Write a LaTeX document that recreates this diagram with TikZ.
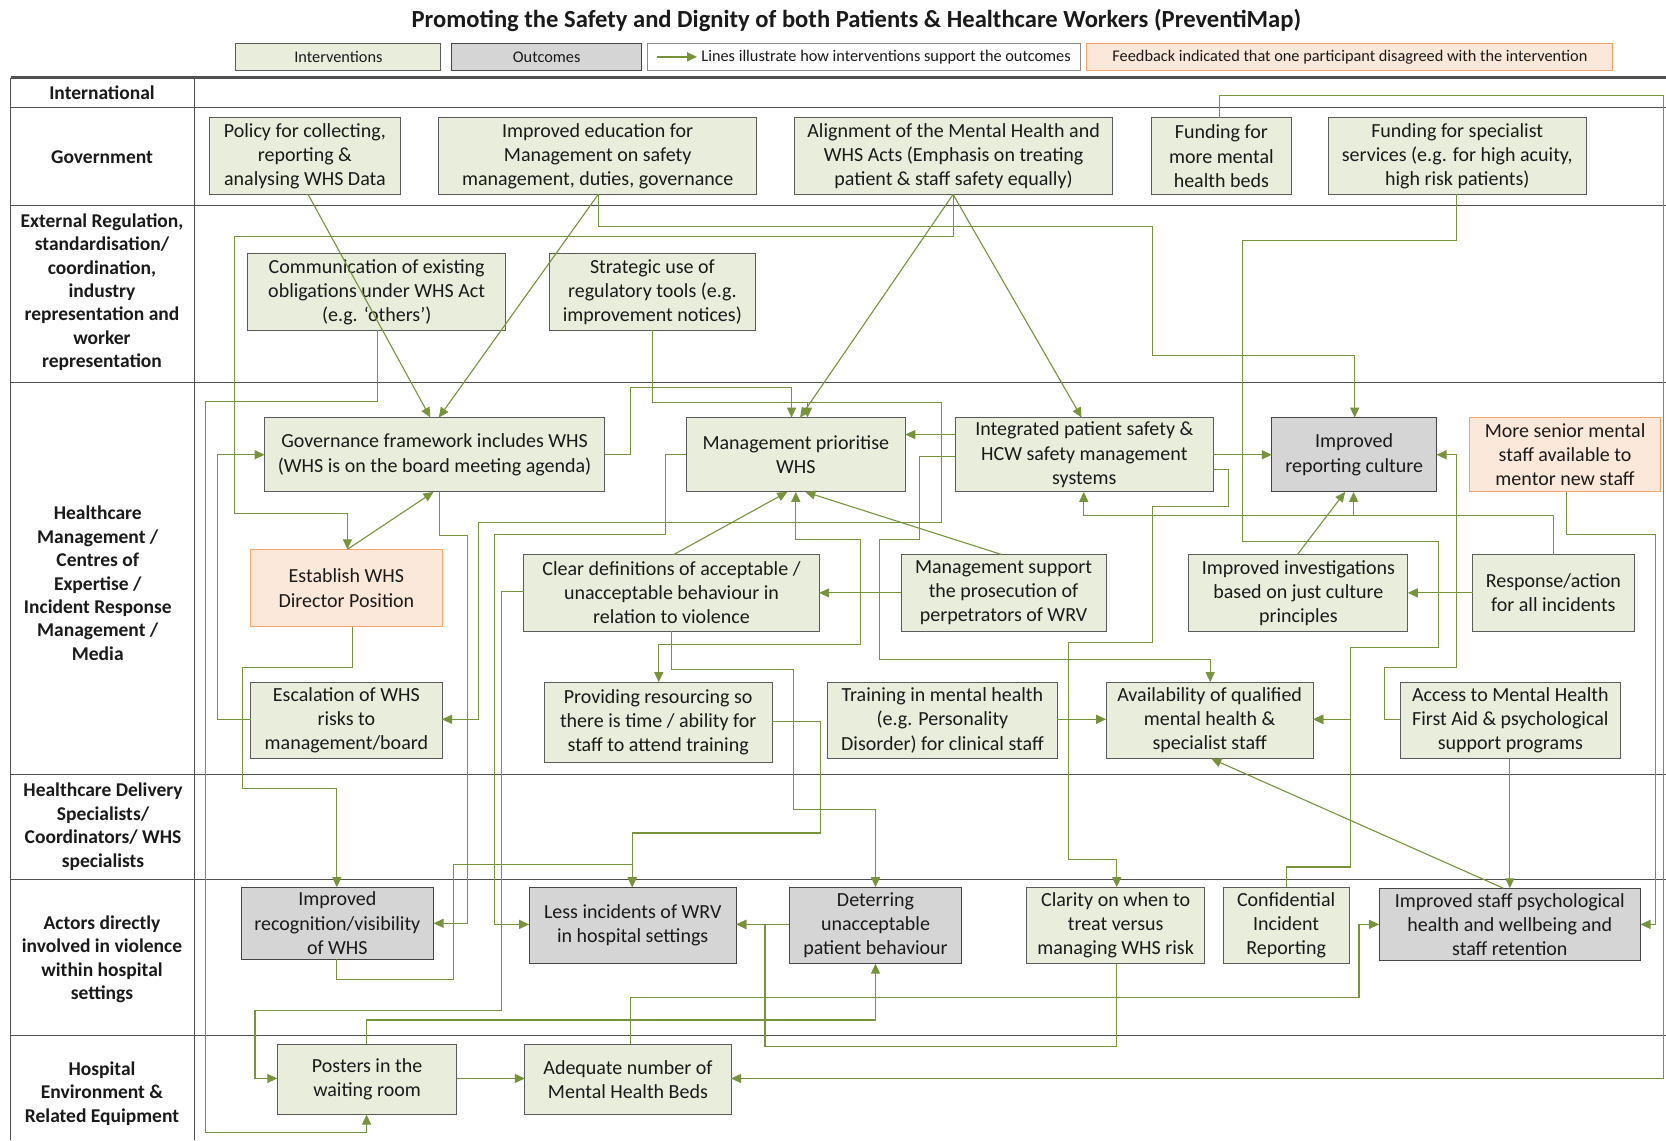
\documentclass[tikz,border=0pt]{standalone}
\usepackage{fontspec}
\setmainfont{Carlito}
\usetikzlibrary{arrows.meta}
\definecolor{lg}{HTML}{77933C}
\definecolor{gfill}{HTML}{E8EEDB}
\definecolor{gbdr}{HTML}{5B5B5B}
\definecolor{ofill}{HTML}{D5D5D5}
\definecolor{obdr}{HTML}{454545}
\definecolor{pfill}{HTML}{FCE8DA}
\definecolor{pbdr}{HTML}{F2A66B}
\definecolor{rule}{HTML}{505050}
\definecolor{ink}{HTML}{1A1A1A}
\newcommand\boxfont{\fontsize{20}{24.2}\selectfont}
\newcommand\lblfont{\fontsize{19.5}{23.4}\selectfont\bfseries}
\newcommand\legfont{\fontsize{16.3}{19}\selectfont}
% box from corner coordinates: name, style, x1, y1, x2, y2, text
\newcommand\bx[7]{%
  \node[#2,minimum width={(#5-#3)*1.0625pt},minimum height={(#6-#4)*1.0625pt}]
    (#1) at ({(#3+#5)/2},{(#4+#6)/2}) {#7};}
\begin{document}
\begin{tikzpicture}[x=1.0625pt,y=-1.0625pt,
  box/.style={draw=gbdr,line width=0.9pt,fill=gfill,inner sep=0pt,outer sep=0pt,
              align=center,font=\boxfont,text=ink},
  outc/.style={box,fill=ofill,draw=obdr},
  dis/.style={box,fill=pfill,draw=pbdr},
  lbl/.style={align=center,font=\lblfont,text=ink,inner sep=0pt},
  rowline/.style={draw=rule,line width=1.1pt},
  conn/.style={draw=lg,line width=1.1pt,line join=miter,
               -{Triangle[length=10pt,width=9pt]}},
  wire/.style={draw=lg,line width=1.1pt,line join=miter}]
\useasboundingbox (0,0) rectangle (1568,1073);
\fill[white] (0,0) rectangle (1568,1073);
\clip (0,0) rectangle (1568,1073);

% ---------- title and key ----------
\node[font=\fontsize{24.6}{29}\selectfont\bfseries,text=ink] (title) at (806,19)
  {Promoting the Safety and Dignity of both Patients \& Healthcare Workers (PreventiMap)};
\bx{keyI}{box,font=\legfont}{222}{41}{415}{66}{Interventions}
\bx{keyO}{outc,font=\legfont}{425}{41}{604}{66}{Outcomes}
\bx{keyL}{box,fill=white,draw=gbdr!70,font=\legfont}{609}{41}{1017}{66}{}
\bx{keyF}{dis,font=\legfont}{1023}{41}{1518}{66}{Feedback indicated that one participant disagreed with the intervention}
\coordinate (keyA) at (618,53.5);
\coordinate (keyB) at (656,53.5);
\draw[conn,line width=1.6pt] (keyA) -- (keyB);
\node[anchor=west,font=\legfont,text=ink,inner sep=0pt] (keyT) at (660,53.5)
  {Lines illustrate how interventions support the outcomes};

% ---------- table frame ----------
\draw[draw=rule,line width=2.4pt] (10,73) -- (1568,73);
\foreach \yy in {101,193,360,729,828,975}
  \draw[rowline] (10,\yy) -- (1568,\yy);
\draw[rowline] (10,73) -- (10,1073);
\draw[rowline] (183,73) -- (183,1073);

% ---------- row labels ----------
\node[lbl] (lbInt) at (96,87) {International};
\node[lbl] (lbGov) at (96,148) {Government};
\node[lbl] (lbExt) at (96,275) {External Regulation,\\standardisation/\\coordination,\\industry\\representation and\\worker\\representation};
\node[lbl] (lbMgt) at (92,549) {Healthcare\\Management /\\Centres of\\Expertise /\\Incident Response\\Management /\\Media};
\node[lbl] (lbDel) at (97,778) {Healthcare Delivery\\Specialists/\\Coordinators/ WHS\\specialists};
\node[lbl] (lbAct) at (96,903) {Actors directly\\involved in violence\\within hospital\\settings};
\node[lbl] (lbHos) at (96,1029) {Hospital\\Environment \&\\Related Equipment};

% ---------- government ----------
\bx{pol}{box}{197}{111}{377}{183}{Policy for collecting,\\reporting \&\\analysing WHS Data}
\bx{edu}{box}{413}{111}{712}{183}{Improved education for\\Management on safety\\management, duties, governance}
\bx{ali}{box}{748}{111}{1047}{183}{Alignment of the Mental Health and\\WHS Acts (Emphasis on treating\\patient \& staff safety equally)}
\bx{fbed}{box}{1084}{111}{1215}{183}{Funding for\\more mental\\health beds}
\bx{fspec}{box}{1250}{111}{1493}{183}{Funding for specialist\\services (e.g. for high acuity,\\high risk patients)}

% ---------- external regulation ----------
\bx{com}{box}{233}{239}{476}{311}{Communication of existing\\obligations under WHS Act\\(e.g. ‘others’)}
\bx{stra}{box}{517}{239}{711}{311}{Strategic use of\\regulatory tools (e.g.\\improvement notices)}

% ---------- healthcare management ----------
\bx{govf}{box}{249}{393}{569}{463}{Governance framework includes WHS\\(WHS is on the board meeting agenda)}
\bx{mpri}{box}{646}{393}{852}{463}{Management prioritise\\WHS}
\bx{integ}{box}{899}{393}{1142}{463}{Integrated patient safety \&\\HCW safety management\\systems}
\bx{rep}{outc}{1197}{393}{1352}{463}{Improved\\reporting culture}
\bx{msen}{dis}{1383}{393}{1563}{463}{More senior mental\\staff available to\\mentor new staff}
\bx{estab}{dis}{236}{517}{416}{590}{Establish WHS\\Director Position}
\bx{clr}{box}{493}{522}{771}{594}{Clear definitions of acceptable /\\unacceptable behaviour in\\relation to violence}
\bx{msup}{box}{848}{522}{1041}{594}{Management support\\the prosecution of\\perpetrators of WRV}
\bx{inv}{box}{1119}{522}{1325}{594}{Improved investigations\\based on just culture\\principles}
\bx{resp}{box}{1386}{522}{1538}{594}{Response/action\\for all incidents}
\bx{esc}{box}{236}{642}{416}{714}{Escalation of WHS\\risks to\\management/board}
\bx{prov}{box}{512}{642}{727}{718}{Providing resourcing so\\there is time / ability for\\staff to attend training}
\bx{train}{box}{779}{642}{995}{714}{Training in mental health\\(e.g. Personality\\Disorder) for clinical staff}
\bx{avail}{box}{1041}{642}{1236}{714}{Availability of qualified\\mental health \&\\specialist staff}
\bx{acc}{box}{1318}{642}{1525}{714}{Access to Mental Health\\First Aid \& psychological\\support programs}

% ---------- actors ----------
\bx{recog}{outc}{227}{835}{408}{903}{Improved\\recognition/visibility\\of WHS}
\bx{less}{outc}{498}{835}{693}{907}{Less incidents of WRV\\in hospital settings}
\bx{det}{outc}{743}{835}{905}{907}{Deterring\\unacceptable\\patient behaviour}
\bx{clar}{box}{966}{835}{1134}{907}{Clarity on when to\\treat versus\\managing WHS risk}
\bx{conf}{box}{1151}{835}{1270}{907}{Confidential\\Incident\\Reporting}
\bx{psy}{outc}{1298}{836}{1544}{904}{Improved staff psychological\\health and wellbeing and\\staff retention}

% ---------- hospital environment ----------
\bx{post}{box}{261}{983}{430}{1049}{Posters in the\\waiting room}
\bx{beds}{box}{494}{983}{688}{1049}{Adequate number of\\Mental Health Beds}

% ---------- connectors ----------
% from government
\draw[conn] (pol.south -| 290,0) -- (govf.north -| 405,0);
\draw[conn] (edu.south -| 563,0) -- (govf.north -| 413,0);
\draw[conn] (edu.south -| 563,0) -- (563,213) -- (1085,213) -- (1085,335)
            -- (1275,335) -- (rep.north -| 1275,0);
\draw[conn] (ali.south -| 897,0) -- (mpri.north -| 753,0);
\draw[conn] (ali.south -| 897,0) -- (integ.north -| 1018,0);
\draw[conn] (ali.south -| 897,0) -- (897,223) -- (221,223) -- (221,483)
            -- (327,483) -- (estab.north -| 327,0);
\coordinate (offTop) at (1566,90);
\coordinate (offBed) at (1566,1015);
\draw[wire] (fbed.north -| 1148,0) -- (1148,90) -- (offTop);
\draw[conn] (offTop) -- (offBed) -- (beds.east |- 0,1015);
\draw[conn] (fspec.south -| 1371,0) -- (1371,226) -- (1169,226) -- (1169,510)
            -- (1354,510) -- (1354,609) -- (1271,609) -- (1271,677)
            -- (avail.east |- 0,677);

% from external regulation
\draw[conn] (com.south -| 355,0) -- (355,378) -- (193,378) -- (193,1066)
            -- (345,1066) -- (post.south -| 345,0);
\coordinate (straJ) at (760,379);
\draw[conn] (stra.south -| 614,0) -- (614,379) -- (886,379) -- (886,492)
            -- (450,492) -- (450,677) -- (esc.east |- 0,677);
\draw[conn] (straJ) -- (mpri.north -| 760,0);

% within healthcare management
\draw[conn] (govf.east |- 0,428) -- (593,428) -- (593,365) -- (745,365)
            -- (mpri.north -| 745,0);
\draw[conn] (esc.west |- 0,677) -- (205,677) -- (205,428) -- (govf.west |- 0,428);
\draw[conn] (estab.north -| 327,0) -- (govf.south -| 408,0);
\draw[conn] (estab.south -| 332,0) -- (332,628) -- (228,628) -- (228,742)
            -- (317,742) -- (recog.north -| 317,0);
\draw[conn] (govf.south -| 414,0) -- (414,504) -- (440,504) -- (440,869)
            -- (recog.east |- 0,869);
\draw[conn] (mpri.west |- 0,428) -- (626,428) -- (626,503) -- (465,503)
            -- (465,870) -- (less.west |- 0,870);
\draw[conn] (clr.west |- 0,557) -- (472,557) -- (472,951) -- (240,951)
            -- (240,1015) -- (post.west |- 0,1015);
\draw[conn] (clr.south -| 632,0) -- (632,607) -- (620,607) -- (prov.north -| 620,0);
\draw[conn] (clr.south -| 632,0) -- (632,630) -- (747,630) -- (747,762)
            -- (824,762) -- (det.north -| 824,0);
\draw[conn] (632,607) -- (810,607) -- (810,508) -- (749,508) -- (mpri.south -| 749,0);
\draw[conn] (clr.north -| 634,0) -- (mpri.south -| 741,0);
\draw[conn] (msup.north -| 943,0) -- (mpri.south -| 758,0);
\draw[conn] (msup.west |- 0,558) -- (clr.east |- 0,558);
\draw[conn] (integ.west |- 0,409) -- (mpri.east |- 0,409);
\draw[conn] (integ.east |- 0,428) -- (rep.west |- 0,428);
\draw[conn] (integ.west |- 0,430) -- (865,430) -- (865,508) -- (828,508)
            -- (828,621) -- (1139,621) -- (avail.north -| 1139,0);
\draw[conn] (integ.east |- 0,442) -- (1156,442) -- (1156,477) -- (1085,477)
            -- (1085,605) -- (1006,605) -- (1006,809) -- (1051,809)
            -- (clar.north -| 1051,0);
\coordinate (respJ) at (1274,485);
\draw[conn] (resp.north -| 1462,0) -- (1462,485) -- (1020,485) -- (integ.south -| 1020,0);
\draw[conn] (respJ) -- (rep.south -| 1274,0);
\draw[conn] (resp.west |- 0,558) -- (inv.east |- 0,558);
\draw[conn] (inv.north -| 1221,0) -- (rep.south -| 1266,0);
\draw[conn] (acc.west |- 0,677) -- (1303,677) -- (1303,628) -- (1371,628)
            -- (1371,428) -- (rep.east |- 0,428);
\draw[conn] (train.east |- 0,677) -- (avail.west |- 0,677);
\draw[conn] (prov.east |- 0,679) -- (772,679) -- (772,784) -- (595,784)
            -- (less.north -| 595,0);
\draw[conn] (msen.south -| 1474,0) -- (1474,503) -- (1558,503) -- (1558,870)
            -- (psy.east |- 0,870);
\draw[conn] (acc.south -| 1421,0) -- (psy.north -| 1421,0);
\draw[conn] (psy.north -| 1415,0) -- (avail.south -| 1140,0);

% actors and hospital environment
\draw[conn] (recog.south -| 317,0) -- (317,922) -- (427,922) -- (427,814)
            -- (595,814) -- (less.north -| 595,0);
\draw[conn] (det.west |- 0,870) -- (less.east |- 0,870);
\draw[conn] (clar.south -| 1051,0) -- (1051,985) -- (720,985) -- (720,870)
            -- (less.east |- 0,870);
\draw[conn] (conf.north -| 1211,0) -- (1211,816) -- (1271,816) -- (1271,677)
            -- (avail.east |- 0,677);
\draw[conn] (post.north -| 345,0) -- (345,960) -- (824,960) -- (det.south -| 824,0);
\draw[conn] (beds.north -| 593,0) -- (593,939) -- (1279,939) -- (1279,870)
            -- (psy.west |- 0,870);
\draw[conn] (post.east |- 0,1015) -- (beds.west |- 0,1015);
\end{tikzpicture}
\end{document}
